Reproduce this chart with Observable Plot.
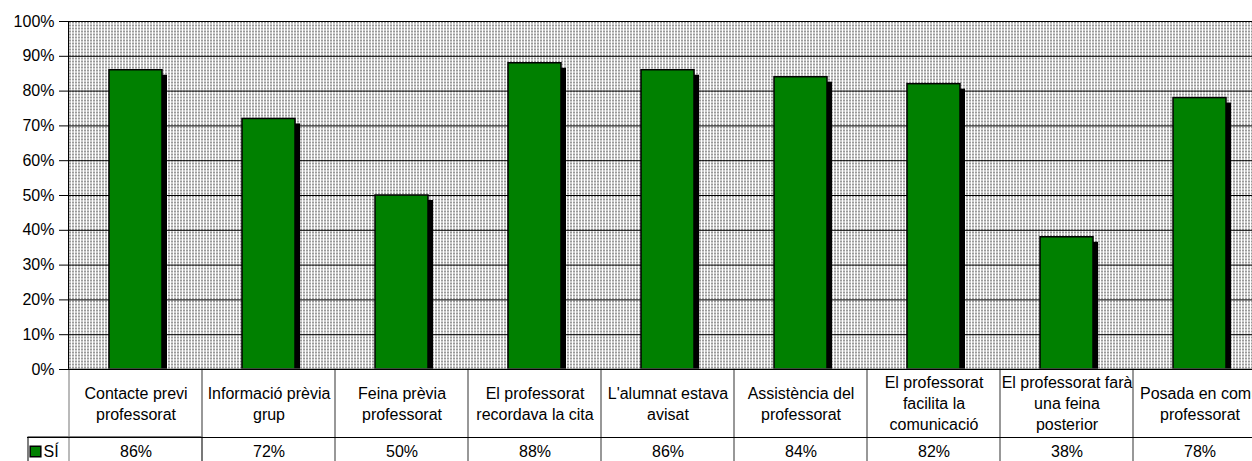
<!DOCTYPE html>
<html>
<head>
<meta charset="utf-8">
<script src="https://cdn.jsdelivr.net/npm/d3@7"></script>
<script src="https://cdn.jsdelivr.net/npm/@observablehq/plot@0.6"></script>
<style>
html, body { margin: 0; padding: 0; background: #fff; overflow: hidden; }
#chart { width: 1252px; overflow: hidden; }
#chart svg { max-width: none !important; display: block; }
</style>
</head>
<body>
<div id="chart"></div>
<script>
const categories = [
  "Contacte previ\nprofessorat",
  "Informació prèvia\ngrup",
  "Feina prèvia\nprofessorat",
  "El professorat\nrecordava la cita",
  "L'alumnat estava\navisat",
  "Assistència del\nprofessorat",
  "El professorat\nfacilita la\ncomunicació",
  "El professorat farà\nuna feina\nposterior",
  "Posada en comú\nprofessorat"
];
const values = [86, 72, 50, 88, 86, 84, 82, 38, 78];
const seriesName = "SÍ";
const yTicks = [0, 10, 20, 30, 40, 50, 60, 70, 80, 90, 100];

const data = categories.map((c, i) => ({cat: c, value: values[i], label: values[i] + "%"}));
const green = "#008000";

const plot = Plot.plot({
  width: 1268,
  height: 466,
  marginLeft: 68,
  marginRight: 1,
  marginTop: 21,
  marginBottom: 97,
  style: {fontFamily: "'Liberation Sans', Arial, sans-serif", fontSize: "16px", color: "#000", background: "#fff", maxWidth: "none"},
  x: {domain: categories, padding: 0},
  y: {domain: [0, 100]},
  marks: [
    Plot.frame({fill: "url(#dots)", stroke: "none"}),
    Plot.ruleY(yTicks, {stroke: "#000", strokeWidth: 1}),
    Plot.barY(data, {x: "cat", y: "value", fill: "#000", insetLeft: 40, insetRight: 40, dx: 5, dy: 5, insetBottom: 5}),
    Plot.barY(data, {x: "cat", y: "value", fill: green, stroke: "#000", strokeWidth: 1.5, insetLeft: 40, insetRight: 40}),
    Plot.frame({stroke: "#000", strokeWidth: 1}),
    Plot.barY([categories[0]], {x: d => d, y1: 0, y2: 0, insetLeft: -41, insetTop: 68, insetBottom: -120, fill: "none", stroke: "#000"}),
    Plot.barY(categories, {x: d => d, y1: 0, y2: 0, insetTop: 0, insetBottom: -120, fill: "none", stroke: "#777"}),
    Plot.ruleY([0], {dy: 68, insetLeft: -41, stroke: "#000"}),
    Plot.ruleY([0], {stroke: "#000"}),
    Plot.axisY({ticks: yTicks, tickFormat: d => d + "%", tickSize: 9, tickPadding: 5, fontSize: 16, label: null}),
    Plot.axisX({tickSize: 0, tickPadding: 33, lineAnchor: "middle", lineHeight: 1.3, fontSize: 16, label: null}),
    Plot.text(data, {x: "cat", text: "label", frameAnchor: "bottom", dy: 82, lineAnchor: "middle", fontSize: 16, fill: "#000"}),
    Plot.dot([seriesName], {frameAnchor: "bottom-left", dx: -33, dy: 82, symbol: "square", r: 6, fill: green, stroke: "#000", strokeWidth: 1.5}),
    Plot.text([seriesName], {frameAnchor: "bottom-left", dx: -25, dy: 82, text: d => d, textAnchor: "start", lineAnchor: "middle", fontSize: 16, fill: "#000"})
  ]
});

const svg = d3.select(plot);
const defs = svg.insert("defs", ":first-child");
const pat = defs.append("pattern")
  .attr("id", "dots")
  .attr("patternUnits", "userSpaceOnUse")
  .attr("x", 0).attr("y", 0)
  .attr("width", 3).attr("height", 3);
pat.append("rect").attr("width", 3).attr("height", 3).attr("fill", "#fff");
pat.append("rect").attr("width", 1).attr("height", 2).attr("fill", "#333");

document.getElementById("chart").appendChild(plot);
</script>
</body>
</html>
